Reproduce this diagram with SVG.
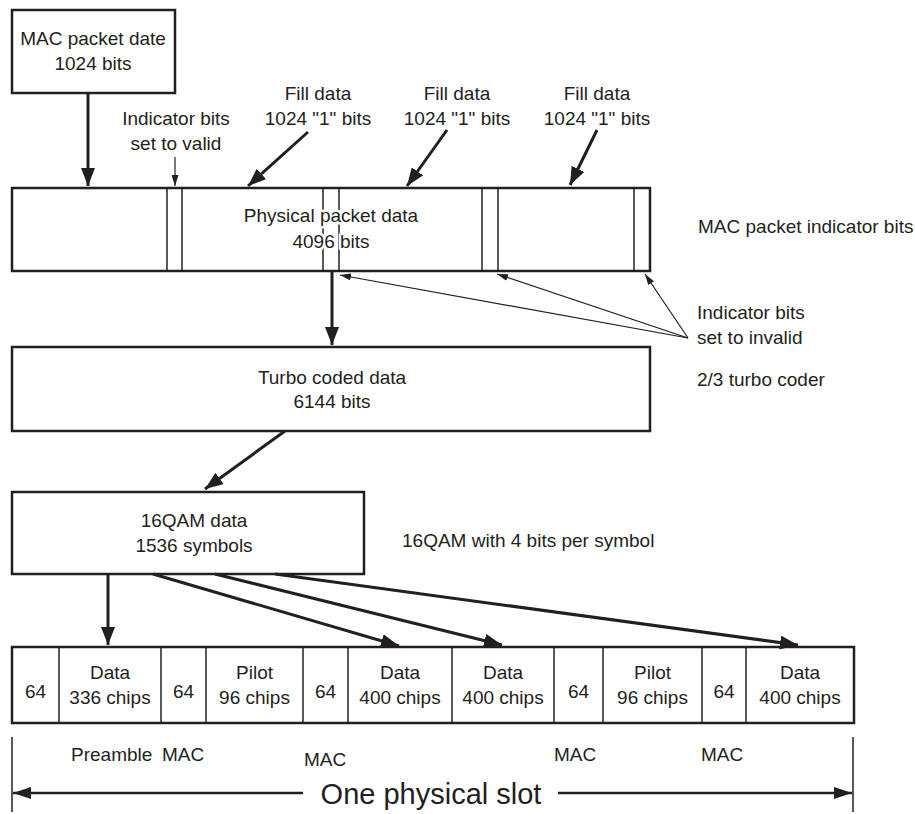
<svg xmlns="http://www.w3.org/2000/svg" width="915" height="814" viewBox="0 0 915 814">
<style>
text{font-family:"Liberation Sans",Arial,sans-serif;font-size:19px;fill:#231f20}
.c{text-anchor:middle}
.halo{stroke:#fff;stroke-width:5;paint-order:stroke;stroke-linejoin:round}
.box{fill:#fff;stroke:#231f20;stroke-width:2.5}
.in{stroke:#231f20;stroke-width:1.5;fill:none}
.thick{stroke:#231f20;stroke-width:3;fill:none;marker-end:url(#ah)}
.thin{stroke:#231f20;stroke-width:1.2;fill:none;marker-end:url(#at)}
</style>
<defs>
<marker id="ah" markerUnits="userSpaceOnUse" viewBox="0 0 18 14" markerWidth="18" markerHeight="14" refX="18" refY="7" orient="auto"><path d="M0,0 L18,7 L0,14 Z" fill="#231f20"/></marker>
<marker id="at" markerUnits="userSpaceOnUse" viewBox="0 0 11 7" markerWidth="11" markerHeight="7" refX="11" refY="3.5" orient="auto"><path d="M0,0 L11,3.5 L0,7 Z" fill="#231f20"/></marker>
<marker id="as" markerUnits="userSpaceOnUse" viewBox="0 0 18 12" markerWidth="18" markerHeight="12" refX="18" refY="6" orient="auto"><path d="M0,0 L18,6 L0,12 Z" fill="#231f20"/></marker>
</defs>

<g id="mac-packet">
<rect class="box" x="12" y="10" width="163" height="83"/>
<text class="c" x="93" y="45">MAC packet date</text>
<text class="c" x="93" y="70">1024 bits</text>
</g>

<g id="label-valid">
<text class="c" x="176" y="125">Indicator bits</text>
<text class="c" x="176" y="150">set to valid</text>
</g>

<g id="fill-1">
<text class="c" x="318" y="100">Fill data</text>
<text class="c" x="318" y="125">1024 "1" bits</text>
</g>
<g id="fill-2">
<text class="c" x="457" y="100">Fill data</text>
<text class="c" x="457" y="125">1024 "1" bits</text>
</g>
<g id="fill-3">
<text class="c" x="597" y="100">Fill data</text>
<text class="c" x="597" y="125">1024 "1" bits</text>
</g>

<g id="physical-packet">
<rect class="box" x="12" y="188" width="638" height="83"/>
<line class="in" x1="167" y1="188" x2="167" y2="271"/>
<line class="in" x1="182" y1="188" x2="182" y2="271"/>
<line class="in" x1="323" y1="188" x2="323" y2="271"/>
<line class="in" x1="339" y1="188" x2="339" y2="271"/>
<line class="in" x1="482" y1="188" x2="482" y2="271"/>
<line class="in" x1="498" y1="188" x2="498" y2="271"/>
<line class="in" x1="634" y1="188" x2="634" y2="271"/>
<text class="c halo" x="331" y="222">Physical packet data</text>
<text class="c halo" x="331" y="248">4096 bits</text>
</g>

<g id="label-mac-indicator">
<text x="698" y="233">MAC packet indicator bits</text>
</g>

<g id="label-invalid">
<text x="697" y="319">Indicator bits</text>
<text x="697" y="344">set to invalid</text>
</g>

<g id="turbo">
<rect class="box" x="12" y="347" width="638" height="84"/>
<text class="c" x="332" y="384">Turbo coded data</text>
<text class="c" x="332" y="408">6144 bits</text>
</g>
<g id="label-turbo">
<text x="697" y="386">2/3 turbo coder</text>
</g>

<g id="qam">
<rect class="box" x="12" y="492" width="352" height="82"/>
<text class="c" x="194" y="527">16QAM data</text>
<text class="c" x="194" y="552">1536 symbols</text>
</g>
<g id="label-qam">
<text x="402" y="547">16QAM with 4 bits per symbol</text>
</g>

<g id="slot">
<rect class="box" x="12" y="647" width="842" height="76"/>
<g class="in">
<line x1="59" y1="647" x2="59" y2="723"/>
<line x1="161" y1="647" x2="161" y2="723"/>
<line x1="206" y1="647" x2="206" y2="723"/>
<line x1="303" y1="647" x2="303" y2="723"/>
<line x1="348" y1="647" x2="348" y2="723"/>
<line x1="452" y1="647" x2="452" y2="723"/>
<line x1="554" y1="647" x2="554" y2="723"/>
<line x1="603" y1="647" x2="603" y2="723"/>
<line x1="702" y1="647" x2="702" y2="723"/>
<line x1="746" y1="647" x2="746" y2="723"/>
</g>
<text class="c" x="35.5" y="698">64</text>
<text class="c" x="110" y="679">Data</text>
<text class="c" x="110" y="704">336 chips</text>
<text class="c" x="183.5" y="698">64</text>
<text class="c" x="254.5" y="679">Pilot</text>
<text class="c" x="254.5" y="704">96 chips</text>
<text class="c" x="325.5" y="698">64</text>
<text class="c" x="400" y="679">Data</text>
<text class="c" x="400" y="704">400 chips</text>
<text class="c" x="503" y="679">Data</text>
<text class="c" x="503" y="704">400 chips</text>
<text class="c" x="578.5" y="698">64</text>
<text class="c" x="652.5" y="679">Pilot</text>
<text class="c" x="652.5" y="704">96 chips</text>
<text class="c" x="724" y="698">64</text>
<text class="c" x="800" y="679">Data</text>
<text class="c" x="800" y="704">400 chips</text>
</g>

<g id="slot-labels">
<text x="71" y="761">Preamble</text>
<text x="162" y="761">MAC</text>
<text x="304" y="766">MAC</text>
<text x="554" y="761">MAC</text>
<text x="701" y="761">MAC</text>
</g>

<g id="one-slot">
<line class="in" x1="12" y1="737" x2="12" y2="812"/>
<line class="in" x1="853" y1="737" x2="853" y2="812"/>
<text class="c" x="431" y="804" style="font-size:29px">One physical slot</text>
<line x1="303" y1="793" x2="13" y2="793" stroke="#231f20" stroke-width="2.5" marker-end="url(#as)"/>
<line x1="558" y1="793" x2="852" y2="793" stroke="#231f20" stroke-width="2.5" marker-end="url(#as)"/>
</g>

<g id="connectors">
<line class="thick" x1="88" y1="93" x2="88" y2="186"/>
<line class="thin" x1="175" y1="157" x2="175" y2="186"/>
<line class="thick" x1="308" y1="132" x2="248" y2="186"/>
<line class="thick" x1="447" y1="130" x2="407" y2="186"/>
<line class="thick" x1="597" y1="130" x2="570" y2="185"/>
<line class="thin" x1="688" y1="338" x2="340" y2="275"/>
<line class="thin" x1="688" y1="338" x2="497" y2="274"/>
<line class="thin" x1="688" y1="338" x2="645" y2="274"/>
<line class="thick" x1="332" y1="271" x2="332" y2="345"/>
<line class="thick" x1="285" y1="431" x2="205" y2="489"/>
<line class="thick" x1="108" y1="574" x2="108" y2="645"/>
<line class="thick" x1="153" y1="574" x2="399" y2="646"/>
<line class="thick" x1="215" y1="574" x2="502" y2="645"/>
<line class="thick" x1="275" y1="574" x2="798" y2="645"/>
</g>
</svg>
